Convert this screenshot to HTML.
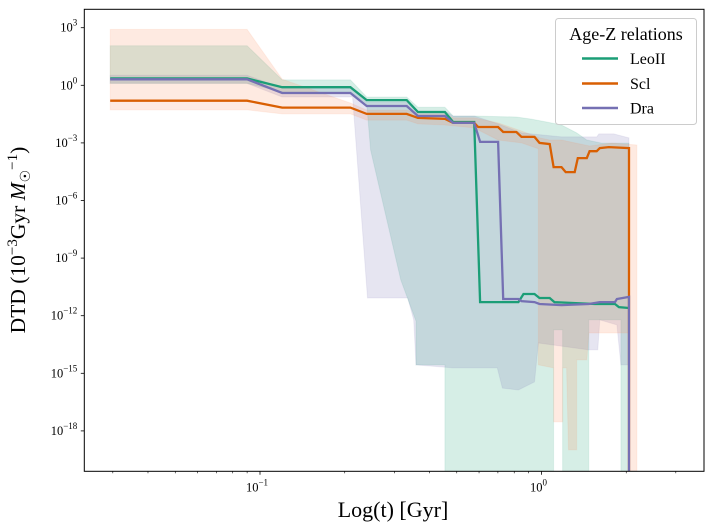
<!DOCTYPE html>
<html><head><meta charset="utf-8"><style>
html,body{margin:0;padding:0;background:#fff;}
svg{display:block;font-family:"Liberation Serif",serif;}
</style></head><body>
<svg id="chart" width="713" height="531" viewBox="0 0 713 531">
<defs><clipPath id="plotclip"><rect x="84.3" y="9.3" width="619.7" height="462"/></clipPath></defs>
<g id="bands" clip-path="url(#plotclip)"></g>
<g id="lines" clip-path="url(#plotclip)"></g>
<g id="axes"></g>
<g id="legend">
<rect x="555.5" y="18.5" width="141" height="106" rx="3" fill="#fff" fill-opacity="0.8" stroke="#ccc"/>
<text x="626" y="40" font-size="18" text-anchor="middle">Age-Z relations</text>
<line x1="582" x2="618" y1="58.5" y2="58.5" stroke="#1b9e77" stroke-width="2.5"/>
<text x="630" y="64" font-size="16">LeoII</text>
<line x1="582" x2="618" y1="83.5" y2="83.5" stroke="#d95f02" stroke-width="2.5"/>
<text x="630" y="89" font-size="16">Scl</text>
<line x1="582" x2="618" y1="108" y2="108" stroke="#7570b3" stroke-width="2.5"/>
<text x="630" y="113.5" font-size="16">Dra</text>
</g>
<text x="393" y="517" font-size="22" text-anchor="middle">Log(t) [Gyr]</text>
<text transform="translate(25,240) rotate(-90)" font-size="21.5" text-anchor="middle">DTD (10<tspan dy="-8" font-size="15">−3</tspan><tspan dy="8">Gyr </tspan><tspan font-style="italic">M</tspan><tspan dy="5" font-size="14">☉</tspan><tspan dy="-13" font-size="15">−1</tspan><tspan dy="8">)</tspan></text>
</svg>
<script>
// data in log10 units: log10(t [Gyr]) and log10(DTD)
const leoLogT=[-1.532,-1.046,-0.921,-0.679,-0.621,-0.479,-0.439,-0.343,-0.314,-0.239,-0.218,-0.082,-0.064,-0.025,-0.007,0.029,0.046,0.189,0.261,0.275,0.311];
const leoLogV=[0.36,0.36,-0.1,-0.1,-0.77,-0.77,-1.39,-1.39,-1.91,-1.91,-11.29,-11.29,-10.87,-10.87,-11.08,-11.08,-11.29,-11.39,-11.39,-11.55,-11.6];
const sclLogT=[-1.532,-1.046,-0.921,-0.679,-0.621,-0.479,-0.439,-0.343,-0.314,-0.239,-0.225,-0.154,-0.136,-0.089,-0.071,-0.025,-0.007,0.029,0.043,0.071,0.086,0.118,0.129,0.161,0.171,0.196,0.207,0.239,0.311,0.311];
const sclLogV=[-0.8,-0.8,-1.16,-1.16,-1.49,-1.49,-1.7,-1.75,-1.96,-1.96,-2.17,-2.17,-2.43,-2.43,-2.69,-2.69,-3.0,-3.06,-4.26,-4.26,-4.52,-4.52,-3.79,-3.79,-3.43,-3.43,-3.27,-3.22,-3.27,-21];
const draLogT=[-1.532,-1.046,-0.921,-0.679,-0.621,-0.479,-0.439,-0.343,-0.314,-0.239,-0.218,-0.154,-0.136,-0.082,-0.071,-0.025,-0.007,0.071,0.168,0.207,0.261,0.268,0.311,0.311];
const draLogV=[0.31,0.31,-0.4,-0.4,-1.08,-1.08,-1.6,-1.6,-1.96,-1.96,-2.95,-2.95,-11.13,-11.13,-11.24,-11.29,-11.39,-11.45,-11.39,-11.29,-11.29,-11.13,-11.02,-21];
const sclBand=[[-1.532,2.91],[-1.046,2.91],[-0.921,0.32],[-0.679,-0.92],[-0.621,-1.29],[-0.479,-1.29],[-0.439,-1.49],[-0.343,-1.49],[-0.314,-1.7],[-0.239,-1.7],[-0.154,-1.96],[-0.071,-2.38],[-0.007,-2.74],[0.029,-2.85],[0.071,-2.85],[0.171,-3.16],[0.25,-3.01],[0.339,-3.11],[0.339,-21],[0.311,-21],[0.311,-12.9],[0.168,-12.9],[0.161,-14.3],[0.125,-14.3],[0.125,-18.99],[0.096,-18.99],[0.089,-14.72],[0.075,-14.72],[0.075,-17.53],[0.043,-17.53],[0.043,-14.72],[-0.011,-14.56],[-0.011,-3.3],[-0.071,-3.0],[-0.154,-2.85],[-0.239,-2.22],[-0.343,-2.07],[-0.439,-2.01],[-0.479,-1.81],[-0.621,-1.81],[-0.679,-1.49],[-0.921,-1.49],[-1.046,-1.28],[-1.532,-1.28]];
const leoBand=[[-1.532,2.06],[-1.046,2.06],[-0.921,0.28],[-0.679,0.28],[-0.621,-0.61],[-0.479,-0.61],[-0.439,-1.14],[-0.343,-1.14],[-0.314,-1.6],[-0.239,-1.6],[-0.089,-1.65],[-0.036,-1.76],[0.018,-1.91],[0.071,-2.07],[0.125,-2.48],[0.161,-2.85],[0.214,-3.01],[0.311,-3.01],[0.311,-21],[0.282,-21],[0.282,-12.22],[0.168,-12.22],[0.168,-21],[0.075,-21],[0.075,-12.74],[0.043,-12.74],[0.043,-21],[-0.343,-21],[-0.343,-14.56],[-0.446,-14.56],[-0.446,-12.28],[-0.5,-10.14],[-0.607,-3.37],[-0.621,-0.97],[-0.679,-0.35],[-0.921,-0.35],[-1.046,0.1],[-1.532,0.1]];
const draBand=[[-1.532,0.52],[-1.046,0.52],[-0.921,-0.14],[-0.679,-0.14],[-0.621,-0.87],[-0.479,-0.87],[-0.439,-1.34],[-0.343,-1.34],[-0.314,-1.6],[-0.239,-1.6],[-0.154,-2.01],[-0.071,-2.48],[0.071,-2.69],[0.196,-2.69],[0.204,-2.53],[0.257,-2.53],[0.311,-2.74],[0.311,-14.56],[0.282,-14.56],[0.268,-12.48],[0.207,-12.22],[0.2,-13.78],[0.168,-13.78],[-0.011,-13.42],[-0.025,-15.45],[-0.082,-15.87],[-0.139,-15.77],[-0.157,-14.72],[-0.314,-14.72],[-0.446,-14.56],[-0.454,-12.22],[-0.475,-11.08],[-0.618,-11.08],[-0.671,-0.61],[-0.921,-0.61],[-1.046,0.1],[-1.532,0.1]];
const yTickExps=[3,0,-3,-6,-9,-12,-15,-18];
const xMajorExps=[-1,0];
const xMinorVals=[0.03,0.04,0.05,0.06,0.07,0.08,0.09,0.2,0.3,0.4,0.5,0.6,0.7,0.8,0.9,2,3];

const NS='http://www.w3.org/2000/svg';
const X0=84.3,X1=704,Y0=9.3,Y1=471.3;
function xs(lt){return 541.5+281.5*lt;}
function ys(lv){return 85.3-19.2*lv;}
function mk(tag,attrs,parent){const e=document.createElementNS(NS,tag);for(const k in attrs)e.setAttribute(k,attrs[k]);parent.appendChild(e);return e;}
const bands=document.getElementById('bands'),lines=document.getElementById('lines'),axes=document.getElementById('axes');

function band(pts,color,name){
  const p=mk('polygon',{points:pts.map(d=>xs(d[0]).toFixed(1)+','+ys(d[1]).toFixed(1)).join(' '),fill:color,'fill-opacity':0.18,stroke:color,'stroke-opacity':0.1},bands);
  
  
}
band(leoBand,'#1b9e77','band-leoii');
band(draBand,'#7570b3','band-dra');
band(sclBand,'#fc8d59','band-scl');

function line(lt,lv,color,name){
  const p=mk('polyline',{points:lt.map((t,i)=>xs(t).toFixed(1)+','+ys(lv[i]).toFixed(1)).join(' '),fill:'none',stroke:color,'stroke-width':2.3,'stroke-linejoin':'miter'},lines);
  
  
}
line(leoLogT,leoLogV,'#1b9e77','line-leoii');
line(sclLogT,sclLogV,'#d95f02','line-scl');
line(draLogT,draLogV,'#7570b3','line-dra');

const frame=mk('rect',{x:X0,y:Y0,width:X1-X0,height:Y1-Y0,fill:'none',stroke:'#000','stroke-width':1},axes);



yTickExps.forEach(e=>{
  const y=ys(e);
  const t=mk('line',{x1:X0-3.5,x2:X0,y1:y,y2:y,stroke:'#000','stroke-width':0.8},axes);
  
  
  const tx=mk('text',{x:X0-7,y:y+4,'font-size':12.5,'text-anchor':'end'},axes);
  
  
  tx.innerHTML='10<tspan dy="-6" font-size="9">'+(e<0?'−'+(-e):e)+'</tspan>';
});
xMajorExps.forEach(e=>{
  const x=xs(e);
  const t=mk('line',{x1:x,x2:x,y1:Y1,y2:Y1+3.5,stroke:'#000','stroke-width':0.8},axes);
  
  
  const tx=mk('text',{x:x-3,y:Y1+20,'font-size':12.5,'text-anchor':'middle'},axes);
  
  
  tx.innerHTML='10<tspan dy="-6" font-size="9">'+(e<0?'−'+(-e):e)+'</tspan>';
});
xMinorVals.forEach(v=>{
  const x=xs(Math.log10(v));
  const t=mk('line',{x1:x,x2:x,y1:Y1,y2:Y1+2,stroke:'#000','stroke-width':0.6},axes);
  
  
});
</script>
</body></html>
